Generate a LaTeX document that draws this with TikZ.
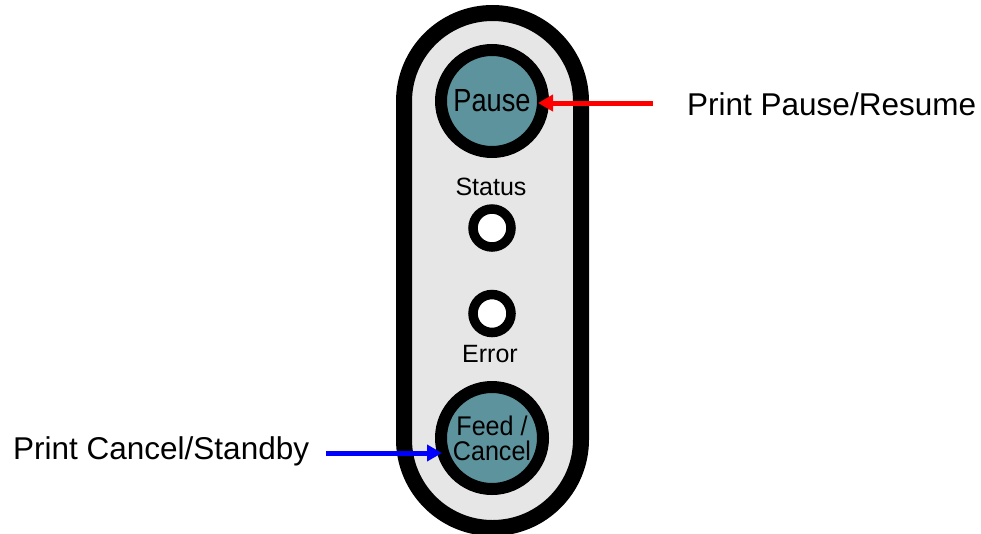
\documentclass[tikz,border=0pt]{standalone}
\usepackage{fontspec}
\setmainfont{Liberation Sans}
\usetikzlibrary{arrows.meta}
\definecolor{panelgrey}{RGB}{230,230,230}
\definecolor{btnteal}{RGB}{92,147,157}
\begin{document}
\begin{tikzpicture}[x=1pt,y=1pt,
  button/.style={circle,draw=black,line width=12pt,fill=btnteal,minimum size=102pt,inner sep=0pt,align=center},
  led/.style={circle,draw=black,line width=9.5pt,fill=white,minimum size=38pt,inner sep=0pt},
  ledlabel/.style={inner sep=0pt,anchor=base,font=\fontsize{25}{25}\selectfont},
  calllabel/.style={inner sep=0pt,font=\fontsize{31.5}{36}\selectfont},
  callarrow/.style={line width=5pt,-{Triangle[length=15pt,width=16pt]}}]
\useasboundingbox (0,0) rectangle (981,-533);
% panel
\draw[line width=16pt,fill=panelgrey,rounded corners=88.5pt] (404,-13) rectangle (581,-528);
% buttons
\node[button,font=\fontsize{32}{32}\selectfont] (pause) at (492,-101) {\scalebox{0.85}[1]{Pause}};
\node[button,font=\fontsize{27}{26}\selectfont] (feed) at (492,-438) {\scalebox{0.93}[1]{Feed /}\\[-1pt]\scalebox{0.93}[1]{Cancel}};
% LEDs
\node[led] (status) at (492,-228) {};
\node[led] (error) at (492,-313.5) {};
\node[ledlabel] (statuslbl) at (491,-195) {Status};
\node[ledlabel] (errorlbl) at (490,-362) {Error};
% callouts
\node[calllabel,anchor=base west] (resume) at (687,-115) {Print Pause/Resume};
\node[calllabel,anchor=base west] (cancel) at (13,-459) {Print Cancel/Standby};
\coordinate (redstart) at (653,-103);
\coordinate (redend) at (538,-103);
\coordinate (bluestart) at (326,-453);
\coordinate (blueend) at (442,-453);
\draw[callarrow,red] (redstart) -- (redend);
\draw[callarrow,blue] (bluestart) -- (blueend);
\end{tikzpicture}
\end{document}
